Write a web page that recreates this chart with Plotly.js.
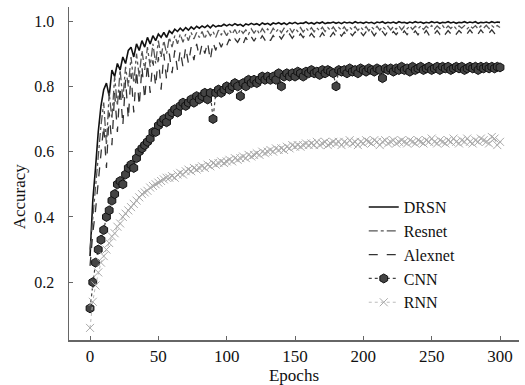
<!DOCTYPE html>
<html><head><meta charset="utf-8">
<script src="https://cdn.plot.ly/plotly-3.0.1.min.js"></script>
<style>html,body{margin:0;padding:0;background:#fff}#c{width:525px;height:385px}</style>
</head><body><div id="c"></div>
<script>
// epochs sampled every 2 epochs, 0..300
const epochStep = 2;
const drsn = [
0.28,0.45,0.55,0.66,0.74,0.79,0.81,0.77,0.85,0.83,
0.87,0.85,0.89,0.87,0.91,0.92,0.89,0.93,0.91,0.94,
0.92,0.95,0.93,0.955,0.94,0.96,0.95,0.965,0.95,0.97,
0.962,0.975,0.968,0.978,0.97,0.98,0.972,0.982,0.975,0.984,
0.978,0.985,0.98,0.987,0.979,0.988,0.982,0.986,0.984,0.99,
0.985,0.99,0.986,0.992,0.987,0.99,0.984,0.991,0.988,0.993,
0.989,0.992,0.987,0.994,0.99,0.993,0.988,0.994,0.991,0.995,
0.99,0.994,0.989,0.995,0.992,0.996,0.991,0.994,0.993,0.997,
0.992,0.995,0.991,0.996,0.993,0.997,0.992,0.995,0.994,0.997,
0.993,0.996,0.992,0.997,0.994,0.996,0.993,0.998,0.994,0.996,
0.993,0.997,0.994,0.996,0.992,0.997,0.995,0.998,0.993,0.996,
0.994,0.997,0.993,0.998,0.995,0.996,0.993,0.997,0.994,0.998,
0.995,0.997,0.993,0.996,0.994,0.998,0.995,0.997,0.993,0.996,
0.995,0.998,0.994,0.997,0.993,0.996,0.995,0.998,0.994,0.997,
0.995,0.998,0.993,0.996,0.995,0.997,0.994,0.998,0.995,0.997,
0.996];
const resnet = [
0.30,0.40,0.50,0.58,0.68,0.75,0.62,0.78,0.70,0.83,
0.74,0.85,0.76,0.86,0.80,0.89,0.81,0.90,0.83,0.91,
0.85,0.92,0.86,0.93,0.87,0.94,0.89,0.94,0.90,0.95,
0.92,0.955,0.93,0.96,0.935,0.96,0.94,0.965,0.945,0.965,
0.95,0.968,0.945,0.97,0.955,0.968,0.95,0.972,0.958,0.97,
0.955,0.972,0.96,0.974,0.958,0.975,0.962,0.973,0.96,0.976,
0.963,0.975,0.96,0.977,0.965,0.976,0.962,0.978,0.966,0.977,
0.964,0.978,0.967,0.979,0.965,0.978,0.968,0.98,0.966,0.979,
0.969,0.98,0.967,0.979,0.97,0.981,0.968,0.98,0.971,0.982,
0.969,0.98,0.972,0.982,0.97,0.981,0.973,0.983,0.971,0.982,
0.972,0.983,0.97,0.982,0.974,0.984,0.972,0.983,0.975,0.984,
0.973,0.983,0.975,0.985,0.973,0.984,0.976,0.985,0.974,0.984,
0.976,0.985,0.974,0.984,0.977,0.986,0.975,0.985,0.977,0.986,
0.975,0.985,0.977,0.986,0.976,0.985,0.978,0.986,0.976,0.985,
0.978,0.986,0.976,0.985,0.978,0.987,0.977,0.986,0.979,0.986,
0.98];
const alexnet = [
0.25,0.35,0.42,0.50,0.60,0.68,0.55,0.72,0.62,0.78,
0.66,0.80,0.68,0.82,0.70,0.84,0.72,0.85,0.74,0.86,
0.76,0.87,0.78,0.88,0.80,0.89,0.79,0.90,0.82,0.90,
0.84,0.91,0.85,0.91,0.86,0.92,0.87,0.92,0.88,0.93,
0.89,0.93,0.90,0.935,0.88,0.935,0.91,0.94,0.92,0.94,
0.925,0.945,0.93,0.945,0.935,0.95,0.93,0.95,0.935,0.952,
0.938,0.953,0.94,0.955,0.942,0.955,0.94,0.956,0.944,0.957,
0.945,0.958,0.946,0.96,0.947,0.959,0.948,0.961,0.949,0.962,
0.95,0.962,0.951,0.963,0.95,0.964,0.952,0.963,0.953,0.965,
0.952,0.965,0.954,0.966,0.953,0.965,0.955,0.967,0.954,0.966,
0.955,0.967,0.956,0.968,0.955,0.967,0.957,0.968,0.956,0.969,
0.957,0.968,0.958,0.969,0.957,0.97,0.958,0.969,0.959,0.97,
0.958,0.97,0.959,0.971,0.958,0.97,0.96,0.971,0.959,0.972,
0.96,0.971,0.961,0.972,0.96,0.971,0.962,0.972,0.961,0.973,
0.962,0.972,0.961,0.973,0.962,0.972,0.963,0.973,0.962,0.974,
0.965];
const cnn = [
0.12,0.20,0.26,0.30,0.33,0.36,0.40,0.42,0.45,0.47,
0.50,0.51,0.50,0.53,0.55,0.56,0.55,0.58,0.60,0.61,
0.62,0.63,0.64,0.66,0.66,0.68,0.69,0.70,0.69,0.71,
0.72,0.73,0.72,0.74,0.75,0.74,0.75,0.76,0.75,0.77,
0.76,0.77,0.78,0.76,0.78,0.70,0.78,0.79,0.78,0.79,
0.80,0.79,0.80,0.81,0.80,0.77,0.81,0.80,0.82,0.81,
0.82,0.81,0.82,0.83,0.82,0.83,0.82,0.83,0.82,0.84,
0.80,0.83,0.84,0.83,0.84,0.83,0.845,0.84,0.83,0.845,
0.84,0.85,0.84,0.845,0.835,0.85,0.84,0.85,0.845,0.84,
0.80,0.85,0.845,0.85,0.84,0.855,0.845,0.85,0.84,0.855,
0.85,0.845,0.855,0.85,0.845,0.855,0.85,0.825,0.855,0.85,
0.855,0.845,0.855,0.85,0.86,0.85,0.855,0.845,0.86,0.85,
0.855,0.86,0.85,0.855,0.86,0.85,0.855,0.86,0.85,0.86,
0.855,0.86,0.85,0.855,0.86,0.855,0.86,0.85,0.855,0.86,
0.855,0.86,0.85,0.86,0.855,0.86,0.855,0.86,0.855,0.86,
0.858];
const rnn = [
0.06,0.14,0.19,0.23,0.26,0.28,0.30,0.32,0.34,0.35,
0.37,0.38,0.40,0.41,0.42,0.43,0.44,0.45,0.46,0.47,
0.475,0.48,0.49,0.495,0.50,0.505,0.51,0.515,0.52,0.52,
0.525,0.52,0.53,0.535,0.53,0.54,0.545,0.54,0.55,0.545,
0.55,0.555,0.55,0.56,0.555,0.565,0.56,0.565,0.57,0.565,
0.57,0.575,0.57,0.58,0.575,0.58,0.585,0.58,0.59,0.585,
0.59,0.595,0.59,0.60,0.595,0.60,0.605,0.60,0.61,0.605,
0.61,0.605,0.615,0.61,0.62,0.615,0.62,0.615,0.62,0.625,
0.62,0.625,0.62,0.63,0.62,0.625,0.63,0.62,0.625,0.63,
0.625,0.63,0.62,0.63,0.625,0.635,0.625,0.63,0.62,0.63,
0.625,0.635,0.63,0.625,0.635,0.63,0.62,0.63,0.635,0.625,
0.63,0.635,0.625,0.63,0.635,0.63,0.625,0.635,0.63,0.625,
0.635,0.63,0.625,0.635,0.63,0.64,0.63,0.625,0.635,0.63,
0.625,0.635,0.63,0.64,0.63,0.625,0.635,0.63,0.64,0.63,
0.625,0.635,0.63,0.64,0.635,0.63,0.625,0.645,0.64,0.62,
0.63];
const names = ["DRSN","Resnet","Alexnet","CNN","RNN"];
const xTicks = [0,50,100,150,200,250,300];
const yTicks = [0.2,0.4,0.6,0.8,1.0];

const epochs = drsn.map((_, i) => i * epochStep);
const F = "Liberation Serif";

const traces = [
  {x: epochs, y: drsn, name: names[0], mode: "lines", line: {color: "#111", width: 1.6}},
  {x: epochs, y: resnet, name: names[1], mode: "lines", line: {color: "#555", width: 1.3, dash: "dashdot"}},
  {x: epochs, y: alexnet, name: names[2], mode: "lines", line: {color: "#333", width: 1.3, dash: "dash"}},
  {x: epochs, y: cnn, name: names[3], mode: "lines+markers", line: {color: "#444", width: 1.2, dash: "dot"},
   marker: {symbol: "hexagon", size: 9, color: "#444", line: {color: "#111", width: 1}}},
  {x: epochs, y: rnn, name: names[4], mode: "lines+markers", line: {color: "#bbb", width: 1, dash: "dot"},
   marker: {symbol: "x-thin-open", size: 8, color: "#aaa", line: {color: "#aaa", width: 1}}}
];

const layout = {
  width: 525, height: 385,
  margin: {l: 69, r: 6, t: 7, b: 45},
  paper_bgcolor: "#fff", plot_bgcolor: "#fff",
  font: {family: F, color: "#111", size: 16},
  showlegend: true,
  legend: {x: 0.655, y: 0.45, xanchor: "left", yanchor: "top", bgcolor: "rgba(0,0,0,0)",
           font: {family: F, size: 16, color: "#111"}, itemwidth: 30, tracegroupgap: 0},
  xaxis: {range: [-15.4, 313.9], tickvals: xTicks, ticktext: xTicks.map(String),
          ticks: "inside", ticklen: 4, tickcolor: "#666", showline: true, linecolor: "#666", linewidth: 1.5,
          showgrid: false, zeroline: false, tickfont: {family: F, size: 17, color: "#111"},
          title: {text: "Epochs", font: {family: F, size: 17, color: "#111"}, standoff: 2}},
  yaxis: {range: [0.023, 1.043], tickvals: yTicks, ticktext: yTicks.map(v => v.toFixed(1)),
          ticks: "inside", ticklen: 4, tickcolor: "#666", showline: true, linecolor: "#666", linewidth: 1.5,
          showgrid: false, zeroline: false, tickfont: {family: F, size: 16, color: "#111"}, ticklabelstandoff: 10},
  annotations: [{text: "Accuracy", xref: "paper", yref: "paper", x: -0.11, y: 0.43, textangle: -90,
                 showarrow: false, font: {family: F, size: 17, color: "#111"}, xanchor: "center", yanchor: "middle"}]
};
Plotly.newPlot("c", traces, layout, {displayModeBar: false, staticPlot: true});
</script>
</body></html>
